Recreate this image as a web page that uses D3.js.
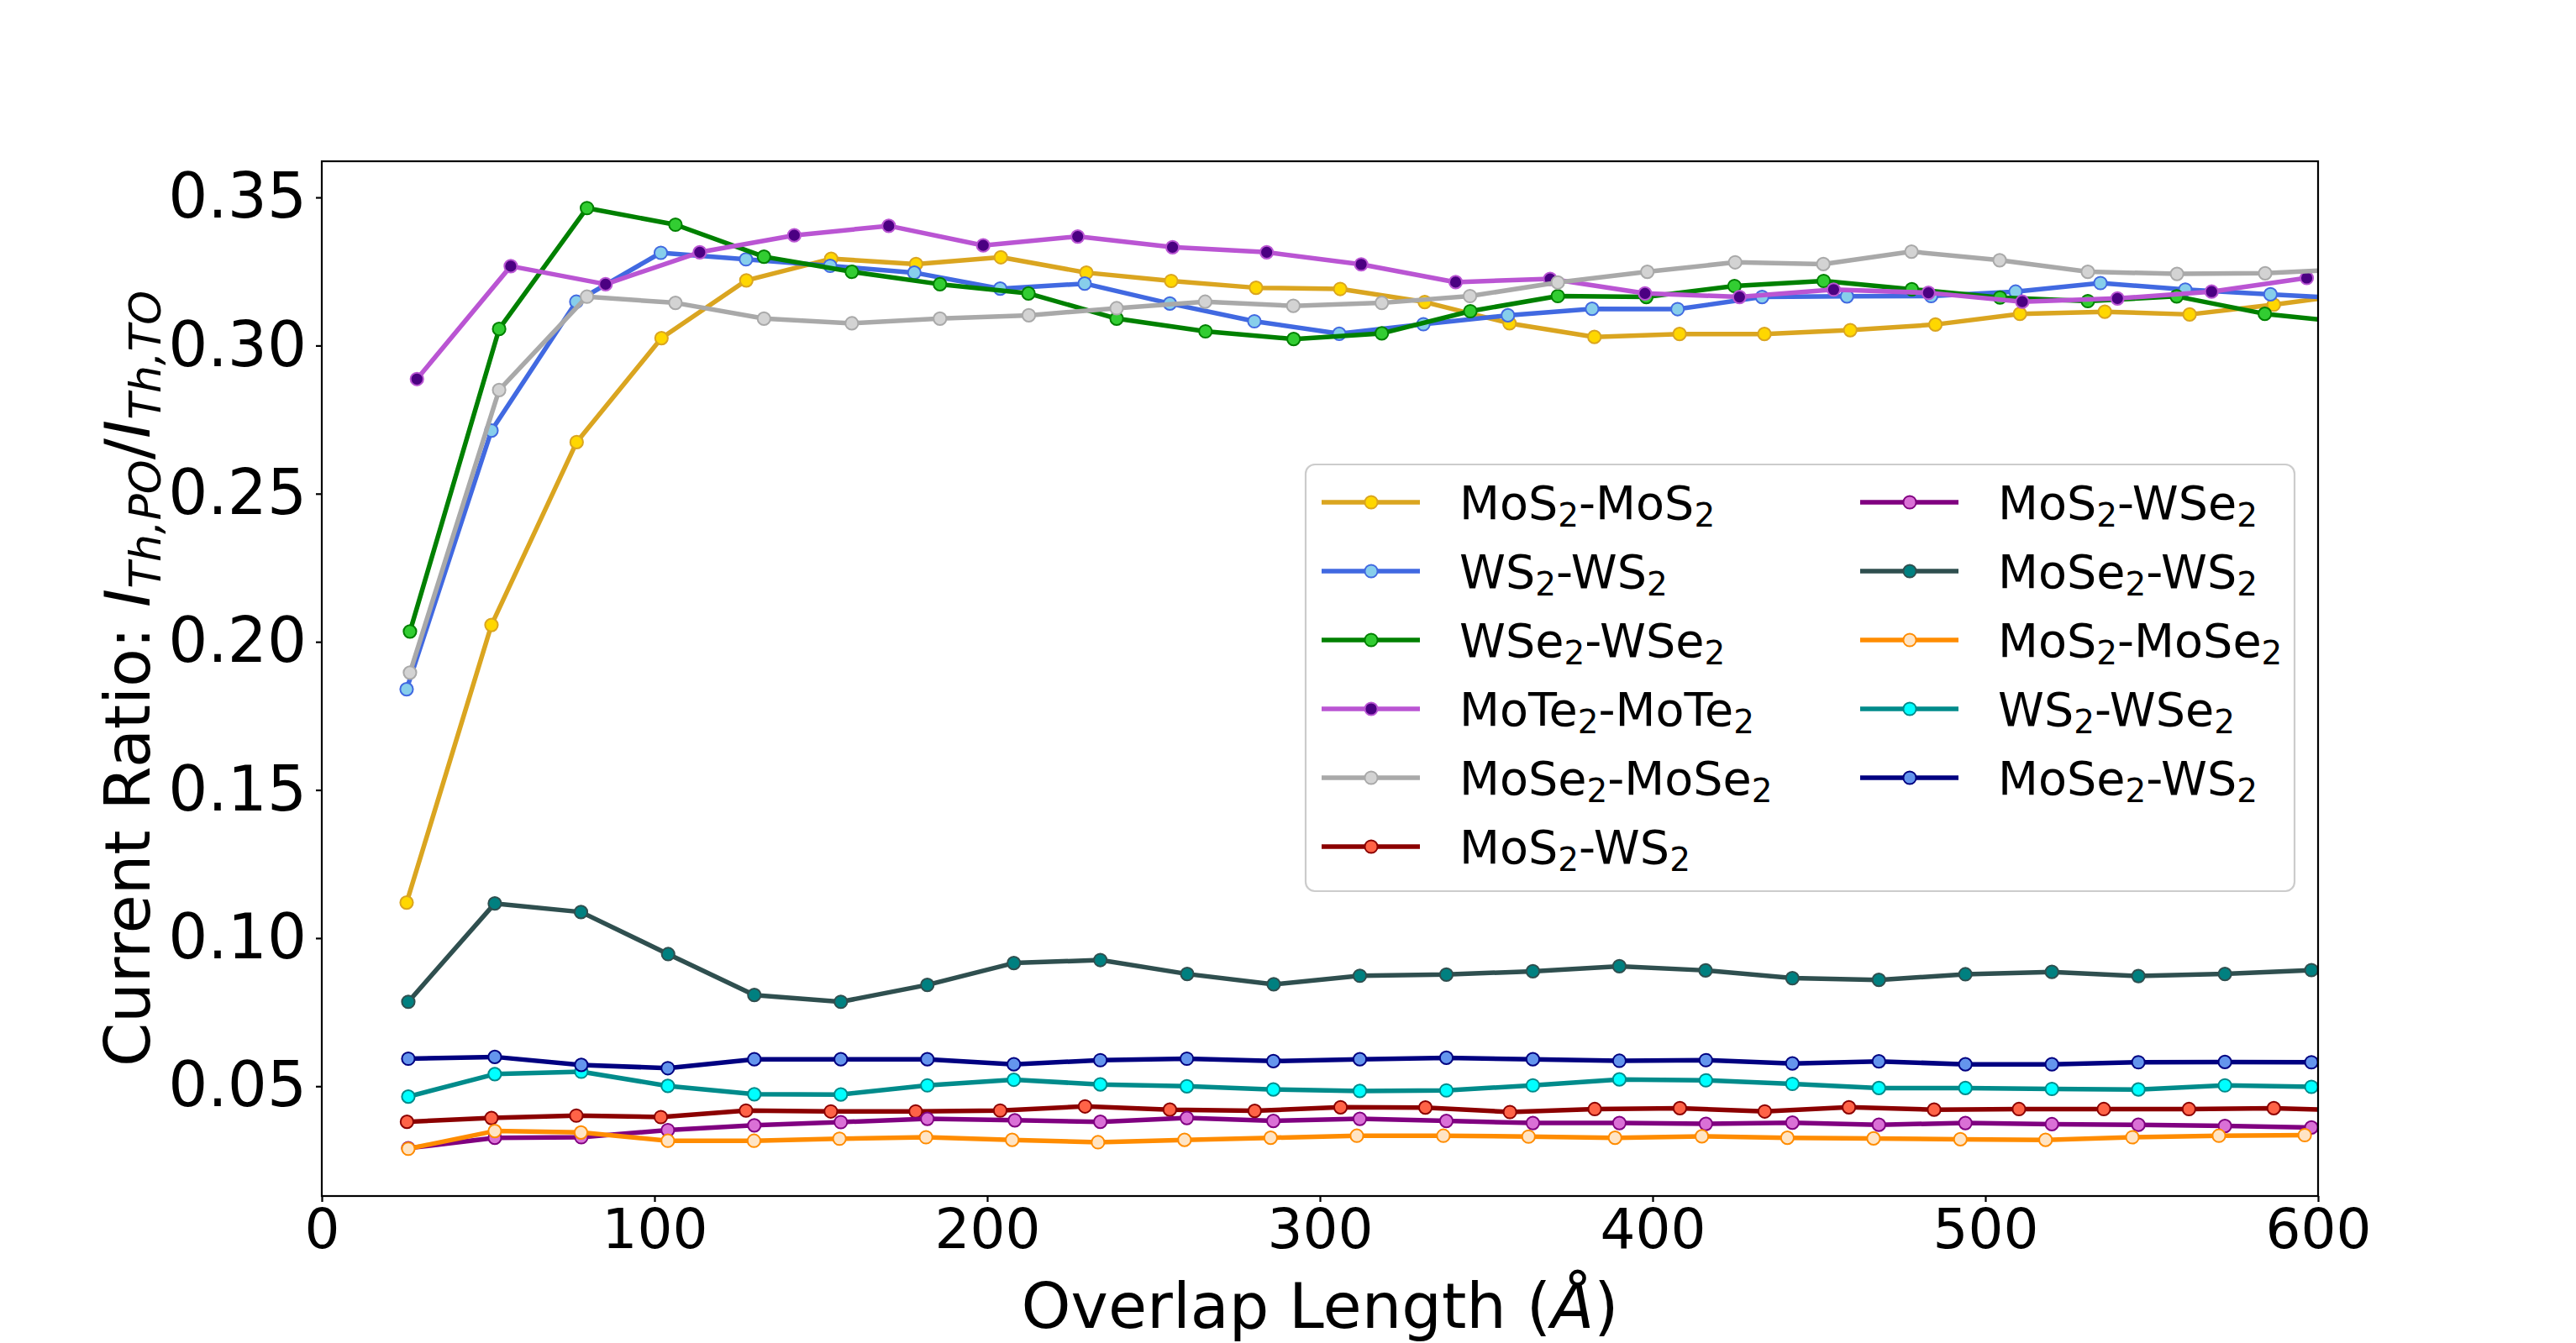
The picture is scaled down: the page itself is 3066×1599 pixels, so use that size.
<!DOCTYPE html>
<html>
<head>
<meta charset="utf-8">
<script src="https://cdn.jsdelivr.net/npm/d3@7/dist/d3.min.js"></script>
<style>
  html, body { margin: 0; padding: 0; background: #ffffff; }
  svg { display: block; font-family: "DejaVu Sans", sans-serif; }
</style>
</head>
<body>
<svg id="chart" width="3066" height="1599"></svg>
<script>
// ---------------- data ----------------
const xTicks = [0, 100, 200, 300, 400, 500, 600];
const yTicks = [0.05, 0.10, 0.15, 0.20, 0.25, 0.30, 0.35];
const xLabel = "Overlap Length (Å)";

const seriesNames = ["MoS2-MoS2", "WS2-WS2", "WSe2-WSe2", "MoTe2-MoTe2", "MoSe2-MoSe2",
  "MoS2-WS2", "MoS2-WSe2", "MoSe2-WS2", "MoS2-MoSe2", "WS2-WSe2", "MoSe2-WS2"];
const lineColors = ["#daa520", "#4169e1", "#008000", "#ba55d3", "#a9a9a9",
  "#8b0000", "#800080", "#2f4f4f", "#ff8c00", "#008b8b", "#000080"];
const markerColors = ["#ffd700", "#87ceeb", "#32cd32", "#4b0082", "#d3d3d3",
  "#ff6347", "#da70d6", "#008080", "#ffe4c4", "#00ffff", "#6495ed"];

const mos2_mos2_x = [25.5, 51.0, 76.6, 102.1, 127.6, 153.1, 178.6, 204.1, 229.8, 255.3, 280.8, 306.1, 331.5, 357.0, 382.5, 408.1, 433.6, 459.4, 485.0, 510.4, 535.9, 561.4, 586.7, 612.2];
const mos2_mos2_y = [0.112, 0.2057, 0.2674, 0.3025, 0.322, 0.3293, 0.3275, 0.3298, 0.3246, 0.3218, 0.3195, 0.3191, 0.3147, 0.3075, 0.3029, 0.3039, 0.3039, 0.3052, 0.3071, 0.3107, 0.3114, 0.3105, 0.3138, 0.3176];

const ws2_ws2_x = [25.5, 51.0, 76.5, 101.9, 127.5, 152.8, 178.1, 203.9, 229.3, 254.9, 280.3, 305.8, 331.1, 356.5, 381.8, 407.5, 432.9, 458.4, 483.7, 509.1, 534.6, 560.1, 585.7, 611.2];
const ws2_ws2_y = [0.184, 0.2713, 0.3148, 0.3313, 0.3291, 0.3269, 0.3246, 0.3192, 0.3209, 0.3142, 0.3082, 0.304, 0.3072, 0.3102, 0.3124, 0.3123, 0.3164, 0.3166, 0.3167, 0.3182, 0.3211, 0.3189, 0.3173, 0.3157];

const wse2_wse2_x = [26.5, 53.3, 79.7, 106.3, 132.9, 159.3, 185.8, 212.4, 238.9, 265.6, 292.1, 318.6, 345.2, 371.5, 398.1, 424.6, 451.4, 477.9, 504.4, 530.8, 557.5, 584.0, 610.5];
const wse2_wse2_y = [0.2035, 0.3056, 0.3464, 0.3408, 0.330, 0.3249, 0.3207, 0.3176, 0.3091, 0.3048, 0.3022, 0.3041, 0.3116, 0.3167, 0.3164, 0.3201, 0.3218, 0.319, 0.3162, 0.315, 0.3166, 0.3107, 0.3076];

const mote2_mote2_x = [28.6, 56.8, 85.3, 113.6, 142.0, 170.4, 198.8, 227.2, 255.7, 284.0, 312.4, 340.8, 369.2, 397.7, 426.1, 454.4, 482.9, 511.1, 539.7, 568.0, 596.6];
const mote2_mote2_y = [0.2887, 0.3268, 0.3207, 0.3315, 0.3372, 0.3404, 0.3338, 0.3368, 0.3332, 0.3315, 0.3274, 0.3214, 0.3225, 0.3176, 0.3164, 0.3189, 0.3178, 0.3148, 0.3159, 0.3182, 0.3228];

const mose2_mose2_x = [26.5, 53.3, 79.7, 106.3, 132.9, 159.3, 185.8, 212.5, 238.9, 265.5, 292.0, 318.6, 345.1, 371.5, 398.4, 424.8, 451.3, 477.8, 504.3, 530.8, 557.6, 584.1, 610.7];
const mose2_mose2_y = [0.1896, 0.285, 0.3165, 0.3144, 0.3091, 0.3075, 0.3091, 0.3102, 0.3126, 0.3148, 0.3134, 0.3144, 0.3167, 0.3213, 0.3249, 0.3281, 0.3275, 0.3317, 0.3288, 0.3249, 0.3242, 0.3244, 0.3259];

const mos2_ws2_x = [25.6, 51.0, 76.5, 101.9, 127.5, 153.0, 178.5, 203.9, 229.4, 254.9, 280.4, 306.2, 331.7, 357.1, 382.6, 408.2, 433.7, 459.0, 484.6, 510.1, 535.6, 561.2, 586.7, 612.2];
const mos2_ws2_y = [0.0380, 0.0393, 0.0401, 0.0396, 0.0418, 0.0415, 0.0415, 0.0418, 0.0432, 0.0421, 0.0417, 0.0429, 0.0428, 0.0413, 0.0423, 0.0426, 0.0415, 0.0429, 0.0421, 0.0423, 0.0423, 0.0423, 0.0426, 0.0417];

const mos2_wse2_x = [26.0, 52.0, 78.0, 104.0, 130.0, 156.0, 182.0, 208.3, 234.0, 260.0, 286.0, 312.0, 338.0, 364.0, 390.0, 416.0, 442.0, 468.0, 494.0, 520.0, 546.0, 572.0, 598.0];
const mos2_wse2_y = [0.0291, 0.0326, 0.0328, 0.0352, 0.0368, 0.0379, 0.0390, 0.0385, 0.0380, 0.0393, 0.0383, 0.0390, 0.0383, 0.0376, 0.0376, 0.0373, 0.0377, 0.0370, 0.0376, 0.0372, 0.0370, 0.0366, 0.0361];

const mose2_ws2_a_x = [26.0, 52.0, 77.9, 104.1, 130.0, 156.0, 182.0, 208.0, 234.0, 260.1, 286.1, 312.0, 338.0, 364.0, 390.0, 415.9, 442.0, 468.0, 494.0, 520.0, 546.0, 572.0, 598.0];
const mose2_ws2_a_y = [0.0785, 0.1117, 0.1088, 0.0946, 0.0808, 0.0785, 0.0842, 0.0916, 0.0926, 0.0879, 0.0844, 0.0873, 0.0877, 0.0888, 0.0905, 0.0891, 0.0865, 0.0859, 0.0878, 0.0886, 0.0872, 0.0879, 0.0892];

const mos2_mose2_x = [26.0, 52.0, 77.9, 104.0, 129.9, 155.6, 181.6, 207.5, 233.3, 259.3, 285.2, 311.1, 337.1, 362.7, 388.7, 414.8, 440.5, 466.4, 492.5, 518.1, 544.2, 570.2, 596.0];
const mos2_mose2_y = [0.0289, 0.0349, 0.0344, 0.0316, 0.0316, 0.0323, 0.0328, 0.0319, 0.0311, 0.0319, 0.0326, 0.0333, 0.0333, 0.0330, 0.0326, 0.0331, 0.0326, 0.0324, 0.0321, 0.0319, 0.0328, 0.0333, 0.0335];

const ws2_wse2_x = [26.0, 52.0, 78.0, 104.0, 130.0, 156.0, 182.0, 208.0, 234.0, 260.0, 286.0, 312.0, 338.0, 364.0, 390.0, 416.0, 442.0, 468.0, 494.0, 520.0, 546.0, 572.0, 598.0];
const ws2_wse2_y = [0.0465, 0.0541, 0.0549, 0.0501, 0.0473, 0.0472, 0.0503, 0.0522, 0.0506, 0.0500, 0.0489, 0.0484, 0.0486, 0.0503, 0.0523, 0.0520, 0.0508, 0.0494, 0.0494, 0.0491, 0.0489, 0.0503, 0.0498];

const mose2_ws2_b_x = [26.0, 52.0, 78.0, 104.0, 130.0, 156.0, 182.0, 208.0, 234.0, 260.0, 286.0, 312.0, 338.0, 364.0, 390.0, 416.0, 442.0, 468.0, 494.0, 520.0, 546.0, 572.0, 598.0];
const mose2_ws2_b_y = [0.0593, 0.0599, 0.0572, 0.0561, 0.0591, 0.0591, 0.0591, 0.0574, 0.0588, 0.0593, 0.0585, 0.0591, 0.0596, 0.0591, 0.0586, 0.0588, 0.0577, 0.0584, 0.0574, 0.0574, 0.0581, 0.0582, 0.0581];

const seriesX = [mos2_mos2_x, ws2_ws2_x, wse2_wse2_x, mote2_mote2_x, mose2_mose2_x,
  mos2_ws2_x, mos2_wse2_x, mose2_ws2_a_x, mos2_mose2_x, ws2_wse2_x, mose2_ws2_b_x];
const seriesY = [mos2_mos2_y, ws2_ws2_y, wse2_wse2_y, mote2_mote2_y, mose2_mose2_y,
  mos2_ws2_y, mos2_wse2_y, mose2_ws2_a_y, mos2_mose2_y, ws2_wse2_y, mose2_ws2_b_y];

// ---------------- layout ----------------
const plot = { left: 383, right: 2759, top: 192, bottom: 1424 };
const x = d3.scaleLinear().domain([0, 600]).range([plot.left, plot.right]);
const y = d3.scaleLinear().domain([0.01295, 0.3622]).range([plot.bottom, plot.top]);

const svg = d3.select("#chart");
svg.append("rect").attr("width", 3066).attr("height", 1599).attr("fill", "#ffffff");

svg.append("defs").append("clipPath").attr("id", "plotClip")
  .append("rect")
  .attr("x", plot.left).attr("y", plot.top)
  .attr("width", plot.right - plot.left).attr("height", plot.bottom - plot.top);

// axes
const xAxis = svg.append("g")
  .attr("transform", `translate(0,${plot.bottom})`)
  .call(d3.axisBottom(x).tickValues(xTicks).tickFormat(d3.format("d")).tickSize(7).tickPadding(8));
xAxis.select(".domain").remove();
xAxis.selectAll(".tick line").attr("stroke", "#000").attr("stroke-width", 2.2);
xAxis.selectAll(".tick text").attr("font-size", 66).attr("fill", "#000")
  .attr("font-family", "DejaVu Sans, sans-serif");

const yAxis = svg.append("g")
  .attr("transform", `translate(${plot.left},0)`)
  .call(d3.axisLeft(y).tickValues(yTicks).tickFormat(d3.format(".2f")).tickSize(7).tickPadding(11));
yAxis.select(".domain").remove();
yAxis.selectAll(".tick line").attr("stroke", "#000").attr("stroke-width", 2.2);
yAxis.selectAll(".tick text").attr("font-size", 74).attr("fill", "#000")
  .attr("font-family", "DejaVu Sans, sans-serif");

// series
const lineGen = d3.line().x(d => x(d[0])).y(d => y(d[1]));
const plotG = svg.append("g").attr("clip-path", "url(#plotClip)");
seriesNames.forEach((name, i) => {
  const pts = seriesX[i].map((xv, j) => [xv, seriesY[i][j]]);
  const g = plotG.append("g");
  g.append("path").datum(pts)
    .attr("d", lineGen)
    .attr("fill", "none")
    .attr("stroke", lineColors[i])
    .attr("stroke-width", 5.5)
    .attr("stroke-linejoin", "round")
    .attr("stroke-linecap", "square");
  g.selectAll("circle").data(pts).enter().append("circle")
    .attr("cx", d => x(d[0])).attr("cy", d => y(d[1]))
    .attr("r", 7.6)
    .attr("fill", markerColors[i])
    .attr("stroke", lineColors[i])
    .attr("stroke-width", 2);
});

// frame
svg.append("rect")
  .attr("x", plot.left).attr("y", plot.top)
  .attr("width", plot.right - plot.left).attr("height", plot.bottom - plot.top)
  .attr("fill", "none").attr("stroke", "#000").attr("stroke-width", 2.2);

// helper: chemical formula with subscript digits
function addFormula(textSel, label, fontSize, subShift) {
  const parts = label.match(/[0-9]+|[^0-9]+/g);
  let shifted = false;
  parts.forEach(p => {
    const isSub = /^[0-9]+$/.test(p);
    const t = textSel.append("tspan").text(p);
    if (isSub) {
      t.attr("font-size", fontSize * 0.7).attr("dy", shifted ? 0 : subShift);
      shifted = true;
    } else {
      t.attr("font-size", fontSize).attr("dy", shifted ? -subShift : 0);
      shifted = false;
    }
  });
}

// legend
const legend = svg.append("g");
legend.append("rect")
  .attr("x", 1554).attr("y", 553).attr("width", 1177).attr("height", 508)
  .attr("rx", 11).attr("ry", 11)
  .attr("fill", "#ffffff").attr("fill-opacity", 0.8)
  .attr("stroke", "#cccccc").attr("stroke-width", 2.2);

const legFont = 55.6;
seriesNames.forEach((name, i) => {
  const col = i < 6 ? 0 : 1;
  const row = i < 6 ? i : i - 6;
  const hx0 = 1573 + col * 641;
  const cy = 598 + row * 82;
  const g = legend.append("g");
  g.append("line").attr("x1", hx0).attr("x2", hx0 + 117).attr("y1", cy).attr("y2", cy)
    .attr("stroke", lineColors[i]).attr("stroke-width", 5.5);
  g.append("circle").attr("cx", hx0 + 59).attr("cy", cy).attr("r", 7.6)
    .attr("fill", markerColors[i]).attr("stroke", lineColors[i]).attr("stroke-width", 2);
  const t = g.append("text").attr("x", hx0 + 164).attr("y", cy + 20)
    .attr("fill", "#000").attr("font-family", "DejaVu Sans, sans-serif");
  addFormula(t, name, legFont, 9);
});

// x label
svg.append("text")
  .attr("x", (plot.left + plot.right) / 2).attr("y", 1581)
  .attr("text-anchor", "middle").attr("font-size", 75).attr("fill", "#000")
  .attr("font-family", "DejaVu Sans, sans-serif")
  .call(t => {
    t.append("tspan").text("Overlap Length (");
    t.append("tspan").attr("font-style", "italic").text("Å");
    t.append("tspan").text(")");
  });

// y label
const yl = svg.append("text")
  .attr("transform", `translate(178,${(plot.top + plot.bottom) / 2}) rotate(-90)`)
  .attr("text-anchor", "middle").attr("font-size", 75).attr("fill", "#000")
  .attr("font-family", "DejaVu Sans, sans-serif");
yl.append("tspan").text("Current Ratio: ");
yl.append("tspan").attr("font-style", "italic").text("I");
yl.append("tspan").attr("font-style", "italic").attr("font-size", 52).attr("dy", 13).text("Th,PO");
yl.append("tspan").attr("dy", -13).text("/");
yl.append("tspan").attr("font-style", "italic").text("I");
yl.append("tspan").attr("font-style", "italic").attr("font-size", 52).attr("dy", 13).text("Th,TO");
</script>
</body>
</html>
